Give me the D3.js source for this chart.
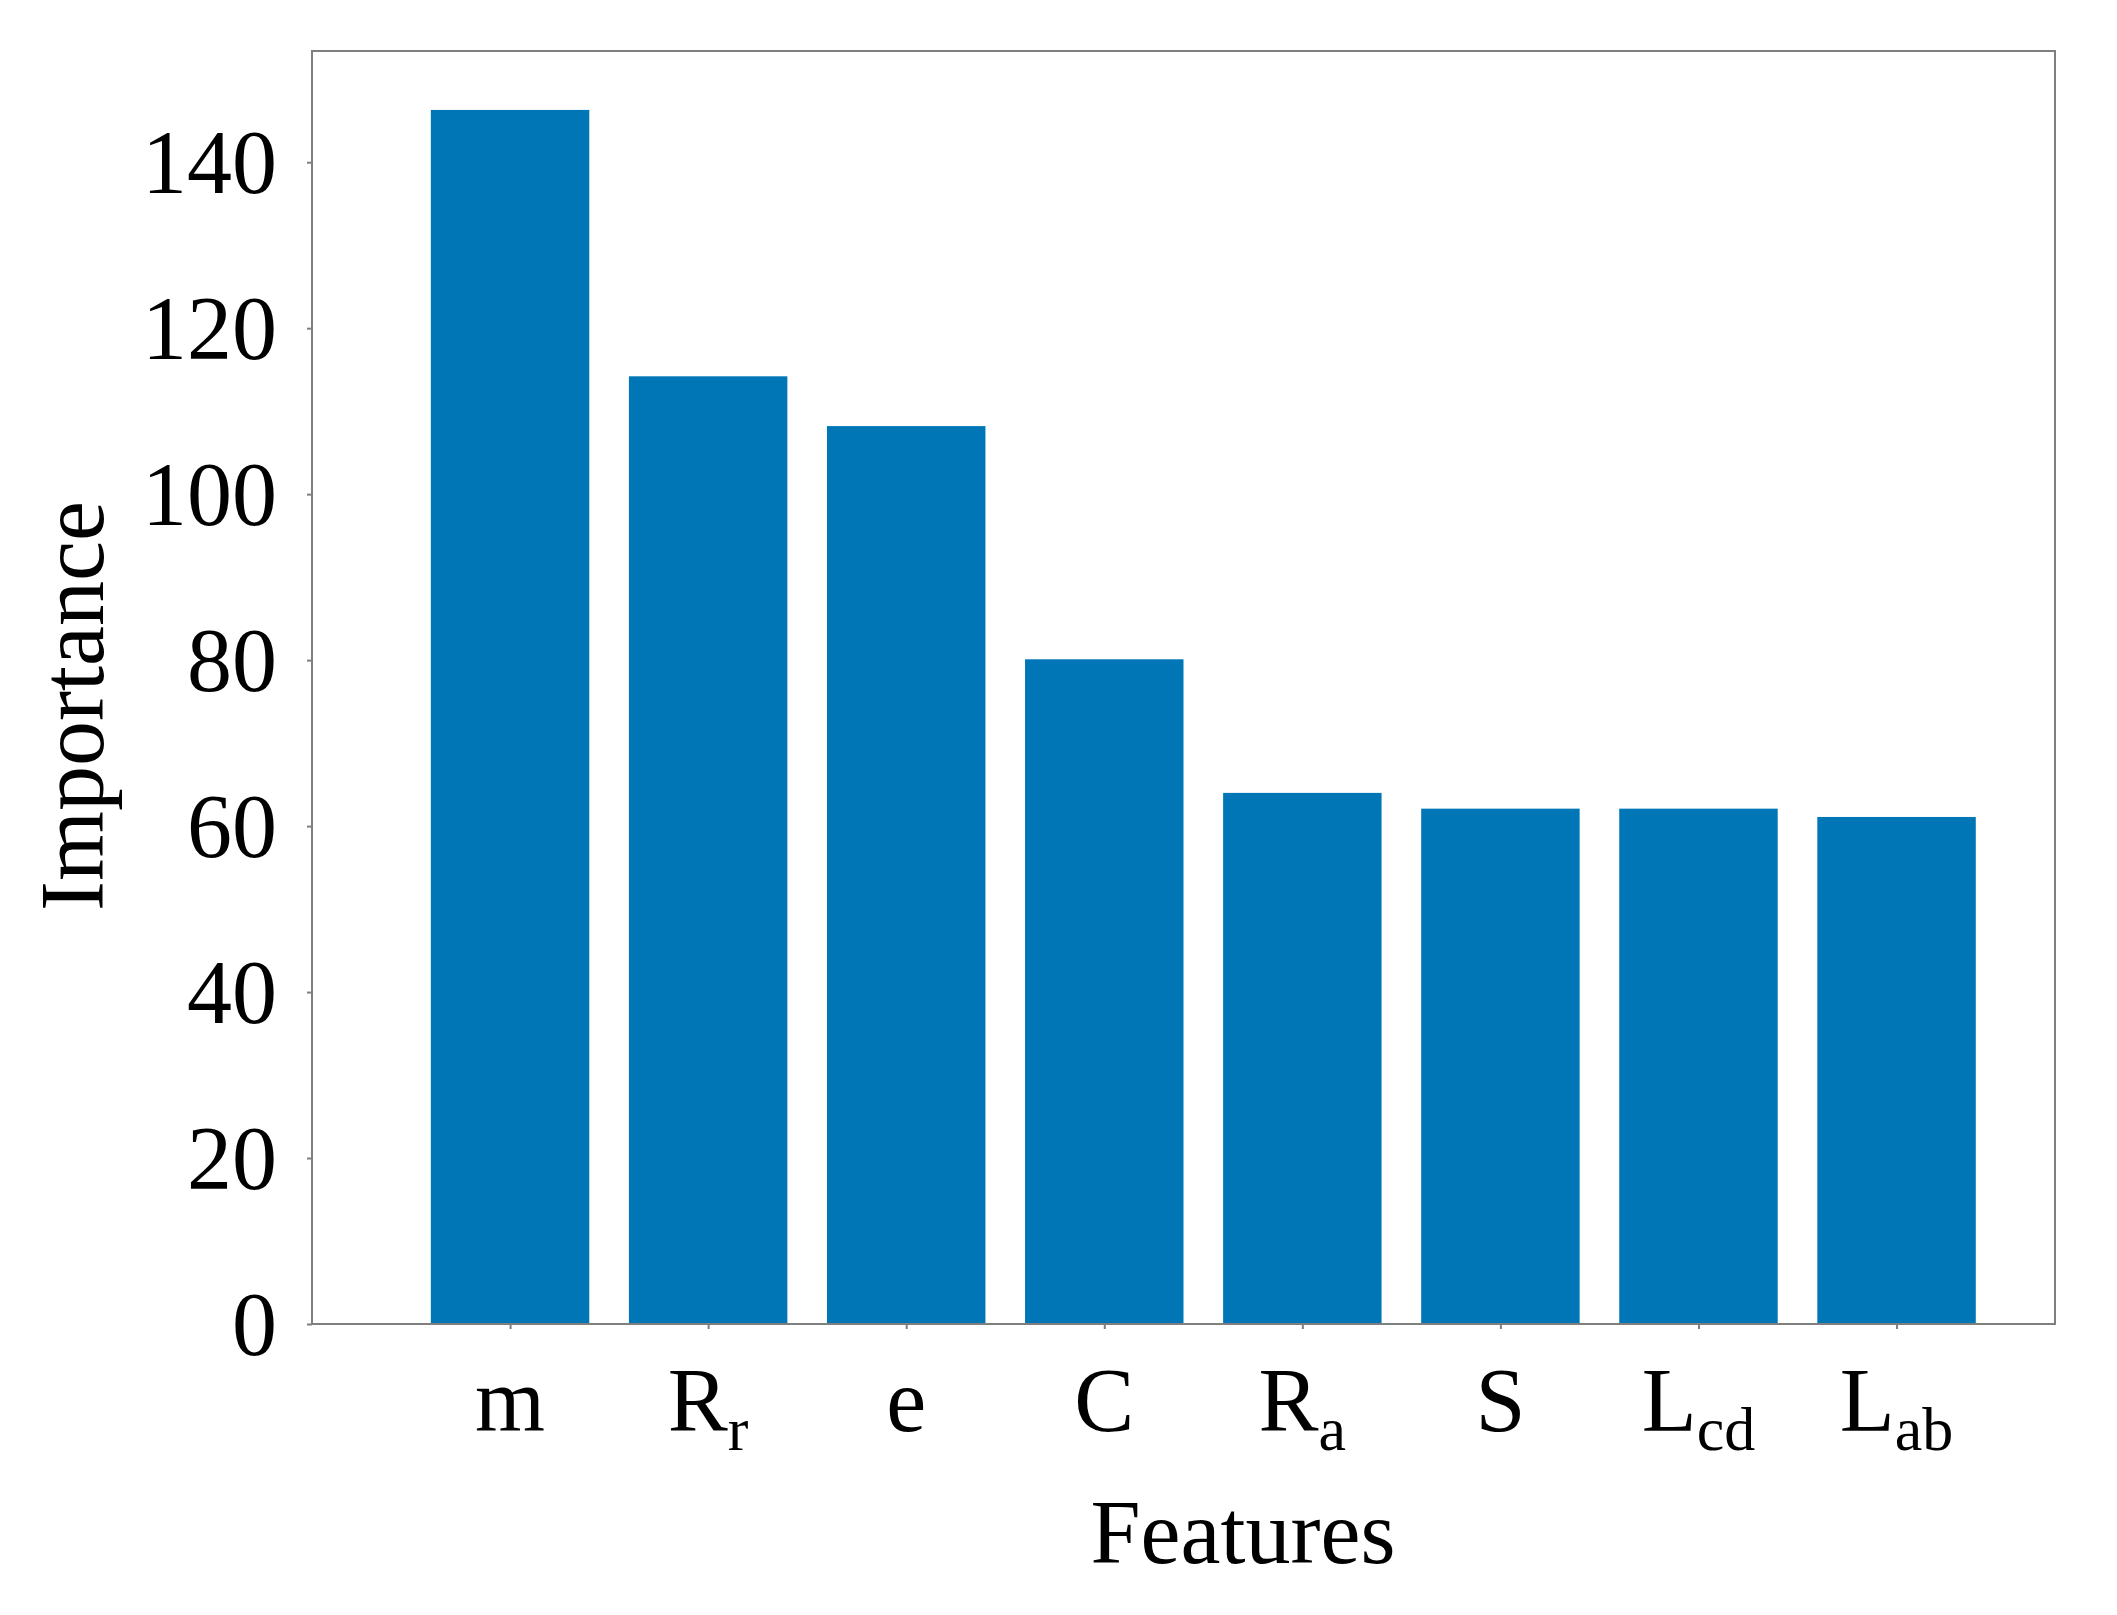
<!DOCTYPE html>
<html>
<head>
<meta charset="utf-8">
<script src="https://cdn.jsdelivr.net/npm/d3@7"></script>
<style>
  html, body { margin: 0; padding: 0; background: #fff; }
  svg { display: block; }
</style>
</head>
<body>
<div id="chart"></div>
<script>
const featureBase = ['m', 'R', 'e', 'C', 'R', 'S', 'L', 'L']
const featureSub = ['', 'r', '', '', 'a', '', 'cd', 'ab']
const importance = [146.3, 114.2, 108.2, 80.1, 64.0, 62.1, 62.1, 61.1]
const yTicks = [0, 20, 40, 60, 80, 100, 120, 140]

const width = 2117
const height = 1615
const margin = { top: 51, right: 62, bottom: 291, left: 312 }
const barColor = '#0076b6'
const frameColor = '#7f7f7f'
const fontFamily = "'Liberation Serif', 'Times New Roman', serif"

const svg = d3.select('#chart')
  .append('svg')
  .attr('width', width)
  .attr('height', height)

const x = d3.scaleLinear()
  .domain([-1, featureBase.length - 0.2])
  .range([margin.left, width - margin.right])

const y = d3.scaleLinear()
  .domain([0, 153.4])
  .range([height - margin.bottom, margin.top])

const barWidth = x(0.8) - x(0)

/* bars */
svg.append('g')
  .selectAll('rect')
  .data(importance)
  .join('rect')
  .attr('x', (d, i) => x(i) - barWidth / 2)
  .attr('y', d => y(d))
  .attr('width', barWidth)
  .attr('height', d => y(0) - y(d))
  .attr('fill', barColor)

/* y axis */
const yAxis = svg.append('g')
  .attr('transform', `translate(${margin.left},0)`)
  .call(d3.axisLeft(y).tickValues(yTicks).tickSize(5).tickPadding(30))
yAxis.select('.domain').remove()
yAxis.selectAll('line').attr('stroke', frameColor).attr('stroke-width', 2)
yAxis.selectAll('text')
  .attr('dy', 30)
  .attr('fill', '#000')
  .attr('font-family', fontFamily)
  .attr('font-size', 90)

/* x axis */
const xAxis = svg.append('g')
  .attr('transform', `translate(0,${y(0)})`)
  .call(d3.axisBottom(x).tickValues(d3.range(featureBase.length)).tickSize(5).tickFormat(() => ''))
xAxis.select('.domain').remove()
xAxis.selectAll('line').attr('stroke', frameColor).attr('stroke-width', 2)
xAxis.selectAll('.tick text').remove()

/* feature labels with subscripts */
const labels = svg.append('g')
  .selectAll('text')
  .data(featureBase)
  .join('text')
  .attr('x', (d, i) => x(i))
  .attr('y', 1431)
  .attr('text-anchor', 'middle')
  .attr('font-family', fontFamily)
  .attr('font-size', 90)
  .attr('fill', '#000')
labels.append('tspan').text(d => d)
labels.append('tspan')
  .attr('dy', 19)
  .attr('font-size', 62)
  .text((d, i) => featureSub[i])

/* frame */
svg.append('rect')
  .attr('x', margin.left)
  .attr('y', margin.top)
  .attr('width', width - margin.right - margin.left)
  .attr('height', y(0) - margin.top)
  .attr('fill', 'none')
  .attr('stroke', frameColor)
  .attr('stroke-width', 2)

/* axis titles */
svg.append('text')
  .attr('transform', 'translate(103,706) rotate(-90)')
  .attr('text-anchor', 'middle')
  .attr('font-family', fontFamily)
  .attr('font-size', 90)
  .attr('fill', '#000')
  .text('Importance')

svg.append('text')
  .attr('x', 1243)
  .attr('y', 1563)
  .attr('text-anchor', 'middle')
  .attr('font-family', fontFamily)
  .attr('font-size', 90)
  .attr('fill', '#000')
  .text('Features')
</script>
</body>
</html>
